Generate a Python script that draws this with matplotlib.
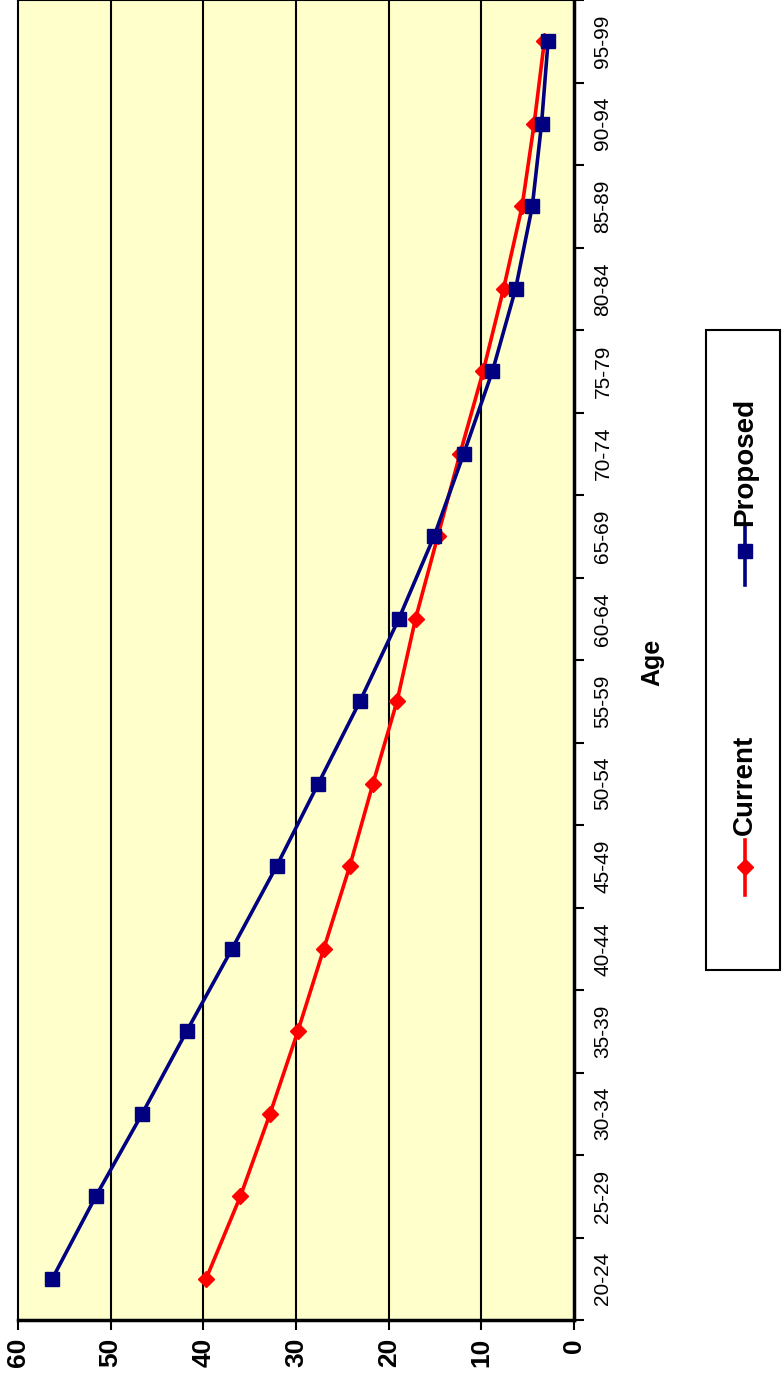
import matplotlib
matplotlib.use('Agg')
import matplotlib.pyplot as plt
from matplotlib.lines import Line2D
from matplotlib.patches import Rectangle

plt.rcParams['font.family'] = ['Liberation Sans', 'DejaVu Sans']

# ── 데이터 ─────────────────────────────────────
age_groups = ['20-24', '25-29', '30-34', '35-39', '40-44', '45-49', '50-54', '55-59',
              '60-64', '65-69', '70-74', '75-79', '80-84', '85-89', '90-94', '95-99']
current = [39.7, 36.0, 32.8, 29.8, 27.0, 24.2, 21.7, 19.1,
           17.1, 14.7, 12.3, 9.8, 7.6, 5.6, 4.3, 3.2]
proposed = [56.3, 51.6, 46.6, 41.8, 36.9, 32.1, 27.6, 23.1,
            18.9, 15.1, 11.9, 8.8, 6.3, 4.5, 3.5, 2.8]
value_ticks = [0, 10, 20, 30, 40, 50, 60]

W, H = 783, 1388
fig = plt.figure(figsize=(W / 100, H / 100), dpi=100)
fig.patch.set_facecolor('white')

# 그래프 영역 (원본 차트를 90도 회전한 형태)
ax = fig.add_axes([18 / W, (H - 1320) / H, (574 - 18) / W, 1320 / H])
ax.set_facecolor('#FFFFCC')

pos = list(range(len(age_groups)))
ax.plot(current, pos, color='#FF0000', lw=2.6, marker='D', ms=8.5,
        mfc='#FF0000', mec='#FF0000', zorder=3, clip_on=False)
ax.plot(proposed, pos, color='#000080', lw=2.6, marker='s', ms=10,
        mfc='#000080', mec='#000080', zorder=4, clip_on=False)

ax.set_xlim(60, 0)
ax.set_ylim(-0.5, len(age_groups) - 0.5)

# 값 축 (아래)
ax.set_xticks(value_ticks)
ax.set_xticklabels([str(v) for v in value_ticks], rotation=90,
                   fontsize=19, fontweight='bold')
ax.tick_params(axis='x', direction='out', length=7, width=1.5, pad=6)
for v in value_ticks[1:-1]:
    ax.axvline(v, color='black', lw=1.5, zorder=1)

# 연령 축 (오른쪽)
ax.yaxis.tick_right()
ax.set_yticks([i - 0.5 for i in range(len(age_groups) + 1)])
ax.set_yticklabels([])
ax.set_yticks(pos, minor=True)
ax.set_yticklabels(age_groups, minor=True, rotation=90, va='center', fontsize=15)
ax.tick_params(axis='y', which='major', direction='out', length=7, width=1.5)
ax.tick_params(axis='y', which='minor', length=0, pad=14)

for side in ['top', 'right', 'bottom', 'left']:
    ax.spines[side].set_linewidth(1.5)
ax.spines['right'].set_linewidth(2.5)
ax.spines['bottom'].set_linewidth(2.5)

fig.text(652 / W, 1 - 662 / H, 'Age', rotation=90, ha='center', va='center',
         fontsize=18, fontweight='bold')

# ── 범례 (회전된 형태로 직접 그림) ───────────────────
fig.add_artist(Rectangle((706 / W, 1 - 970 / H), (780 - 706) / W, (970 - 330) / H,
                         transform=fig.transFigure, fill=False, ec='black', lw=1.5))

fig.add_artist(Line2D([745 / W, 745 / W], [1 - 895 / H, 1 - 840 / H],
                      transform=fig.transFigure, color='#FF0000', lw=2.6))
fig.add_artist(Line2D([745 / W], [1 - 867 / H], transform=fig.transFigure,
                      color='#FF0000', marker='D', ms=8.5, ls='none'))
fig.text(745 / W, 1 - 835 / H, 'Current', rotation=90, ha='center', va='bottom',
         fontsize=20, fontweight='bold')

fig.add_artist(Line2D([745 / W, 745 / W], [1 - 585 / H, 1 - 527 / H],
                      transform=fig.transFigure, color='#000080', lw=2.6))
fig.add_artist(Line2D([745 / W], [1 - 551 / H], transform=fig.transFigure,
                      color='#000080', marker='s', ms=10, ls='none'))
fig.text(745 / W, 1 - 526 / H, 'Proposed', rotation=90, ha='center', va='bottom',
         fontsize=20, fontweight='bold')

plt.savefig('out.png', dpi=100)
plt.close()
